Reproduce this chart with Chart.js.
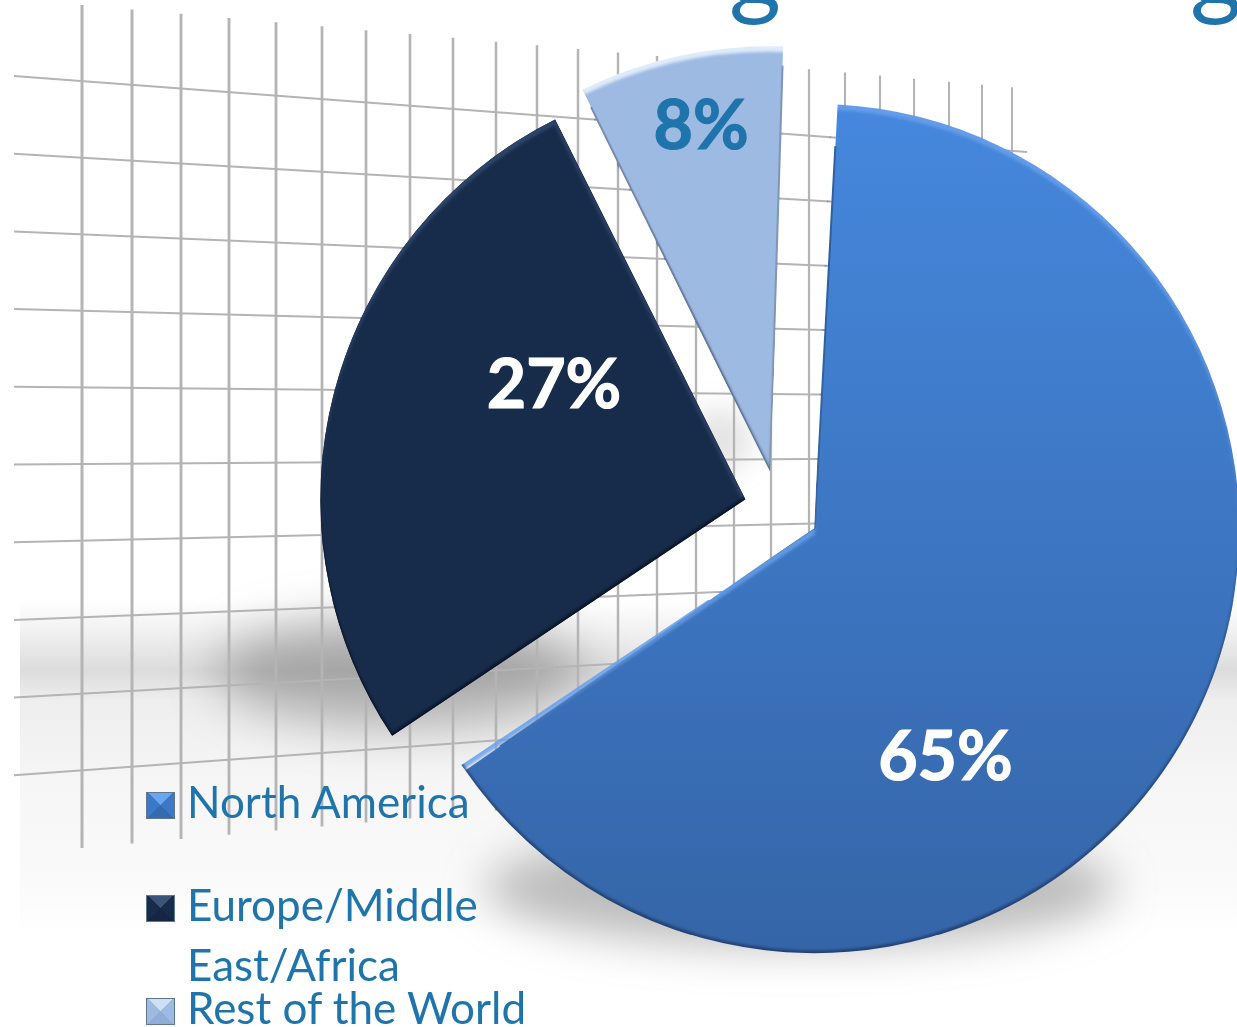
<!DOCTYPE html>
<html>
<head>
<meta charset="utf-8">
<title>Revenue by region</title>
<script src="https://cdn.jsdelivr.net/npm/chart.js@4"></script>
<style>
  body { margin: 0; background: #fff; overflow: hidden; font-family: Lato, sans-serif; }
  #wrap { position: relative; width: 1237px; height: 1027px; overflow: hidden; }
  canvas { position: absolute; left: 0; top: 0; }
  .swatch { position: absolute; left: 146px; width: 27px; height: 25px; border: 1px solid #5f7690; }
  .legend-text { position: absolute; left: 187px; color: #1f75ab; font-size: 44px; line-height: 44px; white-space: nowrap; }
  .heading { position: absolute; color: #1f75ab; font-size: 100px; line-height: 100px; }
</style>
</head>
<body>
<div id="wrap">
  <canvas id="regionChart" width="1237" height="1027"></canvas>
</div>
<script>
const regions = ['North America', 'Europe/Middle East/Africa', 'Rest of the World'];
const shares = [65, 27, 8];
// Chart.js moves an arc by a quarter of its offset option
const sliceOffsets = [168, 136, 152];
const sliceRadius = 425;
const sliceColors = ['#3f7ccc', '#172b4a', '#9dbae2'];
const labelColors = ['#ffffff', '#ffffff', '#1f75ab'];
const bevelLight = ['rgba(105,160,235,0.85)', 'rgba(70,100,145,0.45)', 'rgba(225,238,252,0.95)'];
const bevelDark = ['rgba(25,50,95,0.75)', 'rgba(5,15,30,0.8)', 'rgba(75,95,125,0.8)'];

// where each percentage sits relative to its slice tip: clockwise degrees from north, px
const labelAngles = [150.3, 300.6, 348.7];
const labelDists = [264, 222, 351];

// legend rows: text lines with their baselines, and the swatch faces top/right/bottom/left
const legendRows = [
  { lines: ['North America'], baselines: [817], swatchTop: 792, faces: ['#6aa6ee', '#3c78c6', '#3569b0', '#3c78c6'] },
  { lines: ['Europe/Middle', 'East/Africa'], baselines: [920, 980], swatchTop: 895, faces: ['#3c5478', '#172b4a', '#142644', '#172b4a'] },
  { lines: ['Rest of the World'], baselines: [1023], swatchTop: 998, faces: ['#cfe0f5', '#9dbae2', '#8fadd6', '#9dbae2'] }
];

// backdrop grid, a wall in perspective
const gridColumns = [82, 132, 181, 229, 276, 322, 366, 410, 453, 496, 537, 578, 618, 657, 696, 734, 771, 809, 845, 880, 914, 949, 982, 1012];
const gridRows = [0, 1, 2, 3, 4, 5, 6, 7, 8, 9];

// the tails of the heading glyphs that reach into the top of the slide
const headingGlyphs = [{ x: 729, text: 'g' }, { x: 1190, text: 'g' }];

const wrap = document.getElementById('wrap');

headingGlyphs.forEach(g => {
  const el = document.createElement('div');
  el.className = 'heading';
  el.textContent = g.text;
  el.style.left = g.x + 'px';
  el.style.top = '-82px';
  wrap.appendChild(el);
});

legendRows.forEach(row => {
  const sw = document.createElement('div');
  sw.className = 'swatch';
  sw.style.top = row.swatchTop + 'px';
  const f = row.faces;
  sw.style.background = `conic-gradient(from -45deg, ${f[0]} 0 25%, ${f[1]} 25% 50%, ${f[2]} 50% 75%, ${f[3]} 75%)`;
  wrap.appendChild(sw);
  row.lines.forEach((line, i) => {
    const t = document.createElement('div');
    t.className = 'legend-text';
    t.textContent = line;
    t.style.top = (row.baselines[i] - 38) + 'px';
    wrap.appendChild(t);
  });
});

function blurredEllipse(ctx, cx, cy, rx, ry, blur, color) {
  ctx.save();
  ctx.filter = `blur(${blur}px)`;
  ctx.fillStyle = color;
  ctx.beginPath();
  ctx.ellipse(cx, cy, rx, ry, 0, 0, Math.PI * 2);
  ctx.fill();
  ctx.restore();
}

// floor band, shadows and the grid go under the slices
const backdrop = {
  id: 'backdrop',
  beforeDatasetsDraw(chart) {
    const ctx = chart.ctx;
    const floor = ctx.createLinearGradient(0, 600, 0, 935);
    floor.addColorStop(0, 'rgba(255,255,255,1)');
    floor.addColorStop(0.1, '#f0f0f0');
    floor.addColorStop(0.21, '#dcdcdc');
    floor.addColorStop(0.3, '#eeeeee');
    floor.addColorStop(0.55, '#f6f6f6');
    floor.addColorStop(0.85, '#fafafa');
    floor.addColorStop(1, '#ffffff');
    ctx.fillStyle = floor;
    ctx.fillRect(20, 600, 1217, 335);

    blurredEllipse(ctx, 400, 672, 185, 55, 24, 'rgba(100,100,100,0.45)');
    blurredEllipse(ctx, 720, 440, 32, 32, 14, 'rgba(120,120,120,0.2)');
    blurredEllipse(ctx, 800, 888, 315, 60, 22, 'rgba(110,110,110,0.45)');

    ctx.save();
    ctx.strokeStyle = '#b4b4b4';
    gridColumns.forEach(x => {
      ctx.lineWidth = 3 - (x - 82) / 930;
      ctx.beginPath();
      ctx.moveTo(x, 5 + (x - 82) * 0.0885);
      ctx.lineTo(x, 848 - (x - 82) * 0.09);
      ctx.stroke();
    });
    ctx.lineWidth = 2;
    gridRows.forEach(i => {
      ctx.beginPath();
      ctx.moveTo(14, 76 + 77.7 * i);
      ctx.lineTo(1027, 152 + 61.1 * i);
      ctx.stroke();
    });
    ctx.restore();
  }
};

// extra radius the arc element adds when it draws an offset slice
function radiusGrowth(arc) {
  const sweep = arc.endAngle - arc.startAngle;
  return (arc.options.offset / 4) * (1 - Math.sin(Math.min(Math.PI, sweep)));
}

function wedgePath(ctx, arc) {
  const mid = (arc.startAngle + arc.endAngle) / 2;
  const off = arc.options.offset / 4;
  const x = arc.x + Math.cos(mid) * off;
  const y = arc.y + Math.sin(mid) * off;
  ctx.moveTo(x, y);
  ctx.arc(x, y, arc.outerRadius + radiusGrowth(arc), arc.startAngle, arc.endAngle);
  ctx.closePath();
  return { x, y };
}

// inner glow along the edges: light on faces turned up, dark on faces turned down
function bevel(ctx, arc, shiftY, width, color) {
  ctx.save();
  ctx.beginPath();
  wedgePath(ctx, arc);
  ctx.clip();
  ctx.globalCompositeOperation = 'source-atop';
  ctx.filter = `blur(${width}px)`;
  ctx.fillStyle = color;
  ctx.beginPath();
  ctx.rect(-100, -100, 1500, 1300);
  ctx.translate(0, shiftY);
  wedgePath(ctx, arc);
  ctx.fill('evenodd');
  ctx.restore();
}

const sliceFinish = {
  id: 'sliceFinish',
  // take the drawing growth back so every slice comes out the same size
  afterDatasetUpdate(chart) {
    chart.getDatasetMeta(0).data.forEach(arc => {
      arc.outerRadius = sliceRadius - radiusGrowth(arc);
    });
  },
  afterDatasetsDraw(chart) {
    const ctx = chart.ctx;
    chart.getDatasetMeta(0).data.forEach((arc, i) => {
      bevel(ctx, arc, 6, 1.8, bevelLight[i]);
      bevel(ctx, arc, -3, 1.5, bevelDark[i]);

      const mid = (arc.startAngle + arc.endAngle) / 2;
      const tipX = arc.x + Math.cos(mid) * arc.options.offset / 4;
      const tipY = arc.y + Math.sin(mid) * arc.options.offset / 4;
      const a = (labelAngles[i] - 90) * Math.PI / 180;
      const lx = tipX + Math.cos(a) * labelDists[i];
      const ly = tipY + Math.sin(a) * labelDists[i];
      ctx.save();
      ctx.font = 'bold 68px Lato, sans-serif';
      ctx.fillStyle = labelColors[i];
      ctx.strokeStyle = labelColors[i];
      ctx.lineWidth = 1.2;
      ctx.textAlign = 'center';
      ctx.textBaseline = 'middle';
      ctx.fillText(shares[i] + '%', lx, ly);
      ctx.strokeText(shares[i] + '%', lx, ly);
      ctx.restore();
    });
  }
};

new Chart(document.getElementById('regionChart').getContext('2d'), {
  type: 'pie',
  data: {
    labels: regions,
    datasets: [{
      data: shares,
      offset: sliceOffsets,
      backgroundColor: c => {
        if (c.dataIndex !== 0) return sliceColors[c.dataIndex];
        const g = c.chart.ctx.createLinearGradient(0, 105, 0, 953);
        g.addColorStop(0, '#4587dc');
        g.addColorStop(0.6, '#3b72bc');
        g.addColorStop(1, '#3464a6');
        return g;
      },
      borderColor: ['#2f5f9f', '#12233f', '#7f95b5'],
      borderWidth: 1,
      borderAlign: 'inner'
    }]
  },
  options: {
    responsive: false,
    animation: false,
    rotation: 2.2,
    radius: sliceRadius,
    layout: { padding: { left: 319, bottom: 11 } },
    plugins: {
      legend: { display: false },
      tooltip: { enabled: false }
    }
  },
  plugins: [backdrop, sliceFinish]
});
</script>
</body>
</html>
